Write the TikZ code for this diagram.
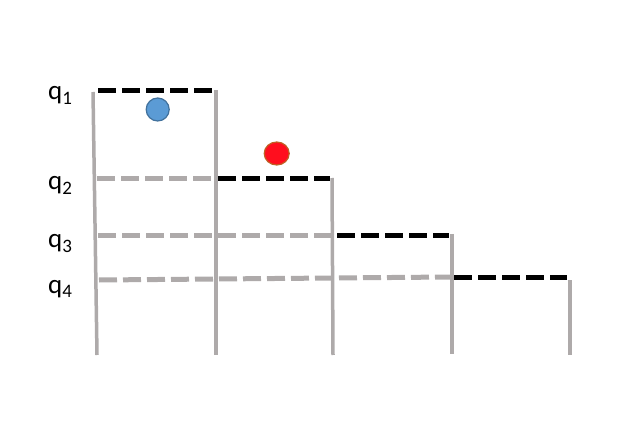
\documentclass[tikz,border=0pt]{standalone}
\usepackage{fontspec}
\setmainfont{Carlito}
\usepackage{tikz}
\usetikzlibrary{positioning}
\definecolor{wallgray}{RGB}{174,170,170}
\definecolor{ballblue}{RGB}{91,155,213}
\definecolor{ballblueedge}{RGB}{65,113,156}
\definecolor{ballred}{RGB}{255,14,30}
\definecolor{ballrededge}{RGB}{192,96,36}
\newcommand{\qsub}[1]{q\raisebox{-5pt}{\fontsize{19}{19}\selectfont #1}}

\begin{document}
\begin{tikzpicture}[x=1pt,y=-1pt,line join=round,
  wall/.style={color=wallgray,line width=3.5pt},
  level/.style={line width=5pt,dash pattern=on 18pt off 6pt},
  free/.style={level,color=wallgray},
  held/.style={level,color=black},
  lab/.style={anchor=base west,inner sep=0pt,font=\fontsize{27}{30}\selectfont}]
\useasboundingbox (0,0) rectangle (618,430);
% walls
\coordinate (w1t) at (93,92);  \coordinate (w1b) at (97,355);
\coordinate (w2t) at (216,90); \coordinate (w2b) at (216,355);
\coordinate (w3t) at (332,178);\coordinate (w3b) at (333,355);
\coordinate (w4t) at (452,234);\coordinate (w4b) at (452,354);
\coordinate (w5t) at (570,280);\coordinate (w5b) at (570,355);
\foreach \i in {1,...,5}
\draw[wall] (w\i t) -- (w\i b);
% levels
\coordinate (l1a) at (98,91);  \coordinate (l1b) at (213,91);
\coordinate (l2a) at (97,179); \coordinate (l2m) at (211,179);
\coordinate (l2c) at (218,179);\coordinate (l2b) at (330,179);
\coordinate (l3a) at (98,236); \coordinate (l3m) at (331,236);
\coordinate (l3c) at (337,236);\coordinate (l3b) at (449,236);
\coordinate (l4a) at (99,280); \coordinate (l4m) at (450,277);
\coordinate (l4c) at (454,277);\coordinate (l4b) at (567,277);
\draw[held] (l1a) -- (l1b);
\foreach \i in {2,3,4}{
\draw[free] (l\i a) -- (l\i m);
\draw[held] (l\i c) -- (l\i b);
}
% labels
\foreach \i/\y in {1/100,2/190,3/248,4/293}
\node[lab] (q\i) at (48,\y) {\qsub{\i}};
% balls
\draw[fill=ballblue,draw=ballblueedge,line width=1.2pt] (157.7,109.5) circle (11.5);
\draw[fill=ballred,draw=ballrededge,line width=1.2pt] (276.7,153.5) ellipse (12.5 and 11.5);
\end{tikzpicture}
\end{document}
